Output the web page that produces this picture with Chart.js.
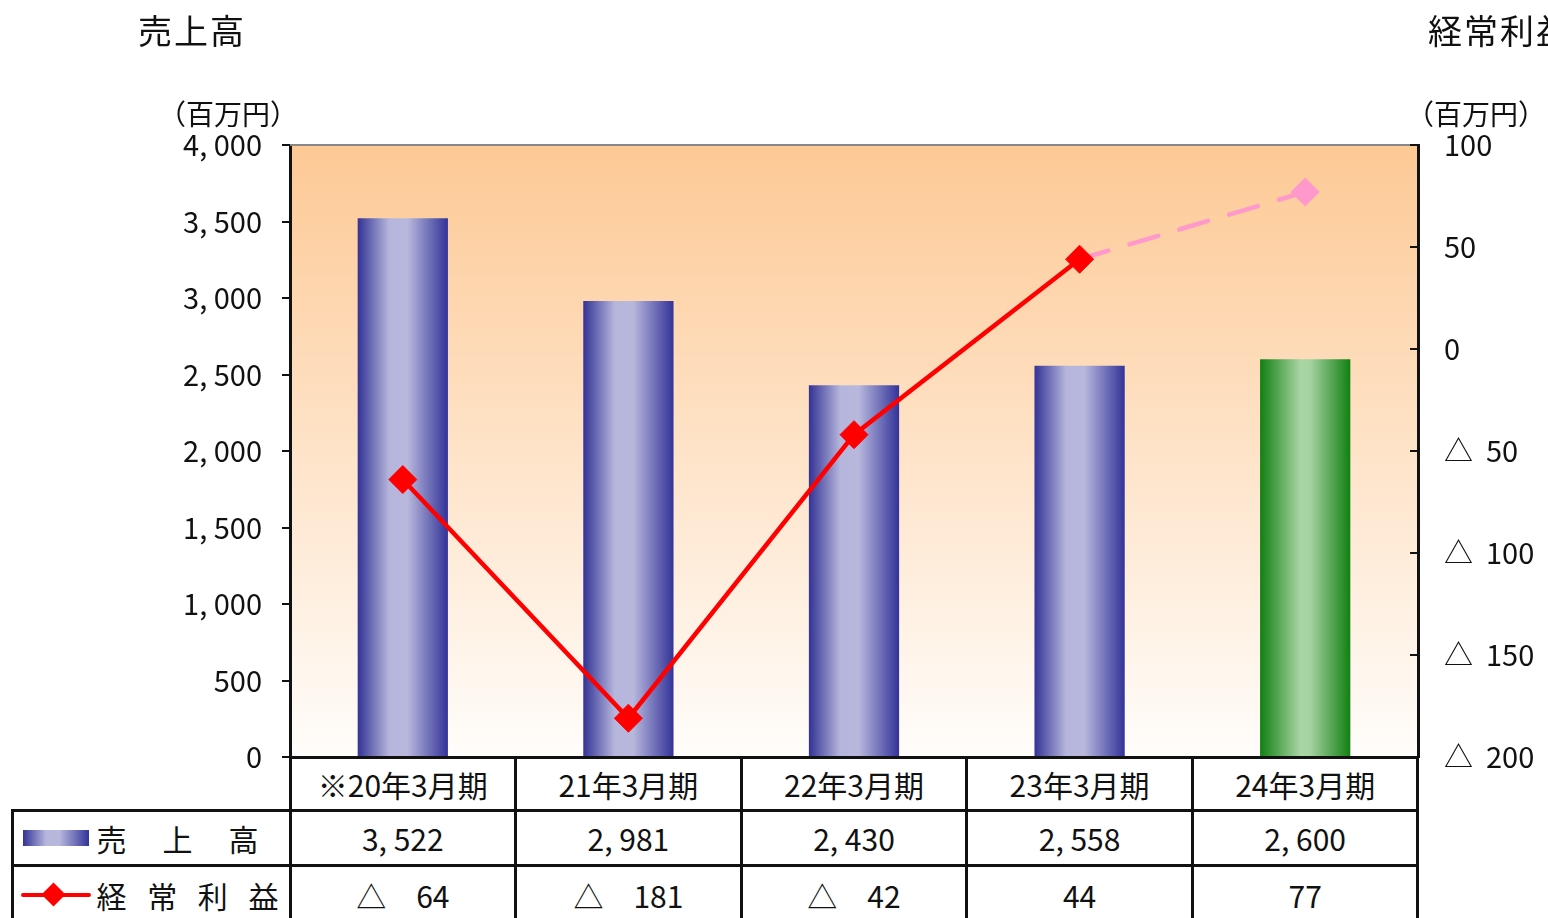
<!DOCTYPE html>
<html>
<head>
<meta charset="UTF-8">
<title>売上高・経常利益</title>
<script src="https://cdn.jsdelivr.net/npm/chart.js"></script>
<style>
    html, body { margin: 0; padding: 0; background: #fff; }
    body {
        width: 1548px; height: 918px; overflow: hidden; position: relative;
        font-family: 'Noto Sans CJK JP', 'Noto Sans', sans-serif; color: #111;
    }
    #chart { position: absolute; left: 0; top: 0; }
    .lbl { position: absolute; white-space: nowrap; line-height: 1; }
    .title { font-size: 34px; letter-spacing: 2px; }
    .unit { font-size: 28px; }
    .cell {
        position: absolute; box-sizing: border-box; border: 3px solid #111;
        display: flex; align-items: center; justify-content: center;
        font-size: 30px; background: #fff;
    }
    .spread { display: flex; justify-content: space-between; }
</style>
</head>
<body>
<canvas id="chart" width="1548" height="918"></canvas>

<div class="lbl title" style="left:138px; top:13px;">売上高</div>
<div class="lbl title" style="left:1428px; top:13px;">経常利益</div>
<div class="lbl unit" style="left:158px; top:99px;">（百万円）</div>
<div class="lbl unit" style="left:1406px; top:99px;">（百万円）</div>

<div id="table"></div>

<script>
    const categories = ['※20年3月期', '21年3月期', '22年3月期', '23年3月期', '24年3月期'];
    const sales = [3522, 2981, 2430, 2558, 2600];
    const profit = [-64, -181, -42, 44, 77];
    const salesTicks = { min: 0, max: 4000, step: 500 };
    const profitTicks = { min: -200, max: 100, step: 50 };
    const rowNames = ['売上高', '経常利益'];

    const fmtSales = v => v.toLocaleString('en-US').replace(',', ', ');
    const fmtProfit = v => v < 0 ? '△　' + Math.abs(v) : String(v);

    function barGradient(ctx, green) {
        const chart = ctx.chart;
        if (!chart.chartArea) return green ? '#138013' : '#333399';
        const x = chart.scales.x.getPixelForValue(ctx.dataIndex);
        const w = chart.chartArea.width / categories.length * 0.4;
        const g = chart.ctx.createLinearGradient(x - w / 2, 0, x + w / 2, 0);
        if (green) {
            g.addColorStop(0, '#118011');
            g.addColorStop(0.45, '#a9d6a5');
            g.addColorStop(0.55, '#a6d3a2');
            g.addColorStop(1, '#118011');
        } else {
            g.addColorStop(0, '#333396');
            g.addColorStop(0.35, '#b6b6dc');
            g.addColorStop(0.55, '#b8b8dd');
            g.addColorStop(1, '#333399');
        }
        return g;
    }

    const plotBg = {
        id: 'plotBg',
        beforeDraw(chart) {
            const { ctx, chartArea: a } = chart;
            const g = ctx.createLinearGradient(0, a.top, 0, a.bottom);
            g.addColorStop(0, '#fdc995');
            g.addColorStop(1, '#fffdfb');
            ctx.save();
            ctx.fillStyle = g;
            ctx.fillRect(a.left, a.top, a.width, a.height);
            ctx.restore();
        },
        afterDraw(chart) {
            const { ctx, chartArea: a } = chart;
            ctx.save();
            ctx.strokeStyle = '#888';
            ctx.lineWidth = 2;
            ctx.beginPath();
            ctx.moveTo(a.left, a.top);
            ctx.lineTo(a.right, a.top);
            ctx.stroke();
            // inward ticks on the right axis
            ctx.strokeStyle = '#111';
            const y1 = chart.scales.y1;
            y1.ticks.forEach(t => {
                const y = y1.getPixelForValue(t.value);
                ctx.beginPath();
                ctx.moveTo(a.right - 8, y);
                ctx.lineTo(a.right, y);
                ctx.stroke();
            });
            ctx.restore();
        }
    };

    const chart = new Chart(document.getElementById('chart'), {
        data: {
            labels: categories,
            datasets: [{
                type: 'line',
                label: rowNames[1],
                data: profit,
                yAxisID: 'y1',
                order: 0,
                borderColor: '#ff0000',
                borderWidth: 4.5,
                borderCapStyle: 'round',
                pointStyle: 'rectRot',
                pointRadius: 14,
                pointBackgroundColor: profit.map((v, i) => i === profit.length - 1 ? '#ff99cc' : '#ff0000'),
                pointBorderColor: profit.map((v, i) => i === profit.length - 1 ? '#ff99cc' : '#ff0000'),
                pointBorderWidth: 1,
                segment: {
                    borderColor: c => c.p1DataIndex === profit.length - 1 ? '#ff99cc' : undefined,
                    borderDash: c => c.p1DataIndex === profit.length - 1 ? [30, 22] : undefined
                }
            }, {
                type: 'bar',
                label: rowNames[0],
                data: sales,
                yAxisID: 'y',
                order: 1,
                barPercentage: 0.4,
                categoryPercentage: 1,
                backgroundColor: c => barGradient(c, c.dataIndex === sales.length - 1)
            }]
        },
        options: {
            responsive: false,
            animation: false,
            layout: { padding: { top: 145, bottom: 161, left: 0, right: 0 } },
            plugins: { legend: { display: false }, tooltip: { enabled: false } },
            scales: {
                x: { display: false },
                y: {
                    position: 'left',
                    min: salesTicks.min, max: salesTicks.max,
                    afterFit: s => { s.width = 290; },
                    ticks: {
                        stepSize: salesTicks.step,
                        padding: 20,
                        color: '#111',
                        font: { family: "'Noto Sans CJK JP'", size: 29 },
                        callback: v => fmtSales(v)
                    },
                    grid: { drawOnChartArea: false, tickLength: 8, color: '#111', lineWidth: 2 },
                    border: { color: '#111', width: 3 }
                },
                y1: {
                    position: 'right',
                    min: profitTicks.min, max: profitTicks.max,
                    afterFit: s => { s.width = 130; },
                    ticks: {
                        stepSize: profitTicks.step,
                        padding: 26,
                        color: '#111',
                        font: { family: "'Noto Sans CJK JP'", size: 29 },
                        callback: v => v < 0 ? '△  ' + Math.abs(v) : v
                    },
                    grid: { drawOnChartArea: false, drawTicks: false, tickLength: 0 },
                    border: { color: '#111', width: 3 }
                }
            }
        },
        plugins: [plotBg]
    });

    // data table under the plot, aligned with the x scale
    const area = chart.chartArea;
    const colW = area.width / categories.length;
    const table = document.getElementById('table');
    const rowTop = [area.bottom, 810, 865];
    const rowH = [54, 56, 60];
    function addCell(x, y, w, h, html) {
        const d = document.createElement('div');
        d.className = 'cell';
        d.style.left = (x - 1.5) + 'px';
        d.style.top = (y - 1.5) + 'px';
        d.style.width = (w + 3) + 'px';
        d.style.height = (h + 3) + 'px';
        d.innerHTML = html;
        table.appendChild(d);
        return d;
    }
    categories.forEach((c, i) => {
        const x = area.left + i * colW;
        addCell(x, rowTop[0], colW, rowH[0], c);
        addCell(x, rowTop[1], colW, rowH[1], fmtSales(sales[i]));
        addCell(x, rowTop[2], colW, rowH[2], fmtProfit(profit[i]));
    });
    const spread = (t, w) => '<span class="spread" style="width:' + w + 'px">' +
        t.split('').map(ch => '<span>' + ch + '</span>').join('') + '</span>';
    const barSwatch = '<span style="display:inline-block;width:66px;height:16px;margin-right:8px;' +
        'background:linear-gradient(90deg,#333396,#b6b6dc 35%,#b8b8dd 55%,#333399)"></span>';
    const lineSwatch = '<span style="position:relative;display:inline-block;width:70px;height:20px;margin-right:6px">' +
        '<span style="position:absolute;left:0;top:8px;width:70px;height:4px;background:#f00;border-radius:2px"></span>' +
        '<span style="position:absolute;left:24px;top:1px;width:17px;height:17px;background:#f00;transform:rotate(45deg)"></span></span>';
    const c1 = addCell(12, rowTop[1], area.left - 12, rowH[1], barSwatch + spread(rowNames[0], 162));
    const c2 = addCell(12, rowTop[2], area.left - 12, rowH[2], lineSwatch + spread(rowNames[1], 182));
    c1.style.justifyContent = 'flex-start'; c1.style.paddingLeft = '9px';
    c2.style.justifyContent = 'flex-start'; c2.style.paddingLeft = '7px';
</script>
</body>
</html>
